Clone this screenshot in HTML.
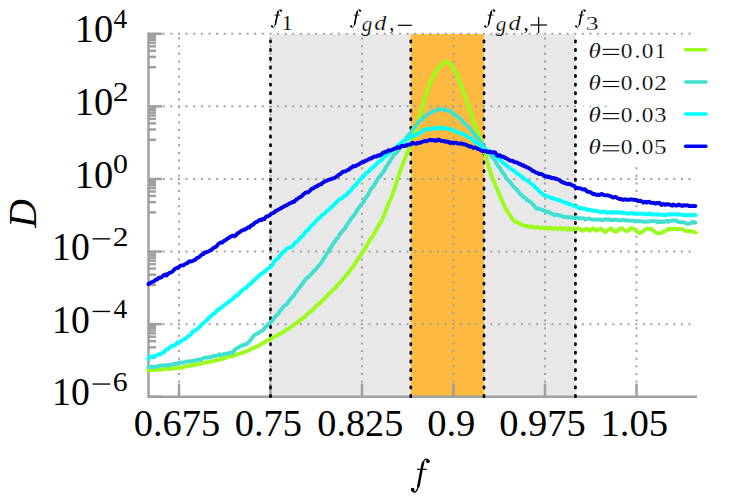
<!DOCTYPE html>
<html><head><meta charset="utf-8"><title>D vs f</title>
<style>
html,body{margin:0;padding:0;background:#fff;}
svg{display:block;font-family:"Liberation Serif",serif;}
</style></head>
<body>
<svg width="747" height="498" viewBox="0 0 747 498">
<rect width="747" height="498" fill="#fff"/>
<rect x="270.5" y="34.05" width="305.0" height="362.7" fill="#e8e8e8"/>
<rect x="410.8" y="34.05" width="73.2" height="362.7" fill="#feb940"/>
<g stroke="#a0a0a0" stroke-width="2" stroke-dasharray="2 5.62" stroke-dashoffset="1" fill="none">
<line x1="179.00" y1="396.75" x2="179.00" y2="33.75"/>
<line x1="270.50" y1="396.75" x2="270.50" y2="33.75"/>
<line x1="362.00" y1="396.75" x2="362.00" y2="33.75"/>
<line x1="453.50" y1="396.75" x2="453.50" y2="33.75"/>
<line x1="545.00" y1="396.75" x2="545.00" y2="33.75"/>
<line x1="636.50" y1="396.75" x2="636.50" y2="166.0"/>
<line x1="148.5" y1="33.75" x2="694" y2="33.75"/>
<line x1="148.5" y1="106.35" x2="576" y2="106.35"/>
<line x1="148.5" y1="178.95" x2="694" y2="178.95"/>
<line x1="148.5" y1="251.55" x2="694" y2="251.55"/>
<line x1="148.5" y1="324.15" x2="694" y2="324.15"/>
<line x1="582.84" y1="106.35" x2="608" y2="106.35" stroke="#c4c4c4"/>
</g>
<g stroke="#a0a0a0" stroke-width="2.5" fill="none">
<line x1="179.00" y1="396.75" x2="179.00" y2="383.55"/>
<line x1="270.50" y1="396.75" x2="270.50" y2="383.55"/>
<line x1="362.00" y1="396.75" x2="362.00" y2="383.55"/>
<line x1="453.50" y1="396.75" x2="453.50" y2="383.55"/>
<line x1="545.00" y1="396.75" x2="545.00" y2="383.55"/>
<line x1="636.50" y1="396.75" x2="636.50" y2="383.55"/>
<line x1="148.5" y1="33.75" x2="162.0" y2="33.75"/>
<line x1="148.5" y1="35.59" x2="156.0" y2="35.59"/>
<line x1="148.5" y1="37.67" x2="156.0" y2="37.67"/>
<line x1="148.5" y1="40.06" x2="156.0" y2="40.06"/>
<line x1="148.5" y1="42.89" x2="156.0" y2="42.89"/>
<line x1="148.5" y1="46.34" x2="156.0" y2="46.34"/>
<line x1="148.5" y1="50.76" x2="156.0" y2="50.76"/>
<line x1="148.5" y1="56.92" x2="156.0" y2="56.92"/>
<line x1="148.5" y1="67.18" x2="156.0" y2="67.18"/>
<line x1="148.5" y1="106.35" x2="162.0" y2="106.35"/>
<line x1="148.5" y1="108.19" x2="156.0" y2="108.19"/>
<line x1="148.5" y1="110.27" x2="156.0" y2="110.27"/>
<line x1="148.5" y1="112.66" x2="156.0" y2="112.66"/>
<line x1="148.5" y1="115.49" x2="156.0" y2="115.49"/>
<line x1="148.5" y1="118.94" x2="156.0" y2="118.94"/>
<line x1="148.5" y1="123.36" x2="156.0" y2="123.36"/>
<line x1="148.5" y1="129.52" x2="156.0" y2="129.52"/>
<line x1="148.5" y1="139.78" x2="156.0" y2="139.78"/>
<line x1="148.5" y1="178.95" x2="162.0" y2="178.95"/>
<line x1="148.5" y1="180.79" x2="156.0" y2="180.79"/>
<line x1="148.5" y1="182.87" x2="156.0" y2="182.87"/>
<line x1="148.5" y1="185.26" x2="156.0" y2="185.26"/>
<line x1="148.5" y1="188.09" x2="156.0" y2="188.09"/>
<line x1="148.5" y1="191.54" x2="156.0" y2="191.54"/>
<line x1="148.5" y1="195.96" x2="156.0" y2="195.96"/>
<line x1="148.5" y1="202.12" x2="156.0" y2="202.12"/>
<line x1="148.5" y1="212.38" x2="156.0" y2="212.38"/>
<line x1="148.5" y1="251.55" x2="162.0" y2="251.55"/>
<line x1="148.5" y1="253.39" x2="156.0" y2="253.39"/>
<line x1="148.5" y1="255.47" x2="156.0" y2="255.47"/>
<line x1="148.5" y1="257.86" x2="156.0" y2="257.86"/>
<line x1="148.5" y1="260.69" x2="156.0" y2="260.69"/>
<line x1="148.5" y1="264.14" x2="156.0" y2="264.14"/>
<line x1="148.5" y1="268.56" x2="156.0" y2="268.56"/>
<line x1="148.5" y1="274.72" x2="156.0" y2="274.72"/>
<line x1="148.5" y1="284.98" x2="156.0" y2="284.98"/>
<line x1="148.5" y1="324.15" x2="162.0" y2="324.15"/>
<line x1="148.5" y1="325.99" x2="156.0" y2="325.99"/>
<line x1="148.5" y1="328.07" x2="156.0" y2="328.07"/>
<line x1="148.5" y1="330.46" x2="156.0" y2="330.46"/>
<line x1="148.5" y1="333.29" x2="156.0" y2="333.29"/>
<line x1="148.5" y1="336.74" x2="156.0" y2="336.74"/>
<line x1="148.5" y1="341.16" x2="156.0" y2="341.16"/>
<line x1="148.5" y1="347.32" x2="156.0" y2="347.32"/>
<line x1="148.5" y1="357.58" x2="156.0" y2="357.58"/>
<line x1="148.5" y1="396.75" x2="162.0" y2="396.75"/>
<path d="M148.5,32.55 V396.75 H697.0"/>
</g>
<g stroke="#000" stroke-width="2.7" stroke-linecap="round" stroke-dasharray="1.3 7.35" fill="none">
<line x1="270.50" y1="396.75" x2="270.50" y2="33.75"/>
<line x1="410.80" y1="396.75" x2="410.80" y2="33.75"/>
<line x1="484.00" y1="396.75" x2="484.00" y2="33.75"/>
<line x1="575.50" y1="396.75" x2="575.50" y2="33.75"/>
</g>
<g fill="none" stroke-width="3.9" stroke-linejoin="round" stroke-linecap="round">
<path stroke="#9cfb1c" d="M148.4,370.7 L149.4,370.1 L150.4,370.1 L151.4,370.2 L152.4,370.2 L153.4,370.0 L154.4,369.8 L155.4,369.9 L156.4,369.7 L157.4,369.7 L158.4,369.7 L159.4,369.9 L160.4,369.7 L161.4,369.3 L162.4,369.2 L163.4,369.1 L164.4,368.9 L165.4,368.8 L166.4,368.9 L167.4,369.2 L168.4,368.8 L169.4,368.7 L170.4,368.7 L171.4,368.7 L172.4,368.7 L173.4,368.3 L174.4,368.0 L175.4,368.1 L176.4,368.2 L177.4,368.1 L178.4,367.9 L179.4,367.8 L180.4,367.6 L181.4,367.7 L182.4,367.5 L183.4,366.7 L184.4,366.8 L185.4,366.6 L186.4,366.3 L187.4,366.4 L188.4,366.1 L189.4,365.9 L190.4,365.7 L191.4,365.4 L192.4,365.4 L193.4,365.3 L194.4,364.8 L195.4,364.6 L196.4,364.4 L197.4,364.2 L198.4,364.2 L199.4,364.0 L200.4,363.6 L201.4,363.4 L202.4,363.1 L203.4,362.9 L204.4,362.9 L205.4,362.5 L206.4,362.2 L207.4,362.3 L208.4,362.1 L209.4,362.1 L210.4,361.8 L211.4,361.7 L212.4,361.2 L213.4,360.9 L214.4,360.6 L215.4,360.6 L216.4,360.2 L217.4,360.0 L218.4,359.8 L219.4,359.7 L220.4,359.5 L221.4,359.1 L222.4,358.9 L223.4,358.3 L224.4,358.4 L225.4,358.2 L226.4,357.6 L227.4,357.2 L228.4,356.8 L229.4,356.7 L230.4,356.6 L231.4,356.4 L232.4,356.1 L233.4,355.6 L234.4,355.7 L235.4,355.0 L236.4,354.8 L237.4,354.3 L238.4,353.8 L239.4,353.8 L240.4,353.4 L241.4,353.0 L242.4,352.7 L243.4,352.5 L244.4,352.3 L245.4,351.6 L246.4,351.1 L247.4,351.0 L248.4,350.4 L249.4,350.0 L250.4,349.2 L251.4,348.4 L252.4,348.4 L253.4,348.1 L254.4,347.5 L255.4,347.0 L256.4,346.7 L257.4,346.4 L258.4,346.0 L259.4,345.4 L260.4,344.6 L261.4,344.0 L262.4,343.3 L263.4,342.9 L264.4,342.6 L265.4,341.8 L266.4,340.8 L267.4,340.4 L268.4,340.0 L269.4,339.3 L270.4,338.8 L271.4,338.6 L272.4,338.0 L273.4,337.1 L274.4,336.6 L275.4,336.4 L276.4,336.0 L277.4,335.3 L278.4,334.5 L279.4,334.0 L280.4,333.7 L281.4,333.2 L282.4,332.4 L283.4,332.0 L284.4,331.5 L285.4,330.4 L286.4,329.7 L287.4,329.4 L288.4,328.6 L289.4,328.1 L290.4,327.5 L291.4,326.7 L292.4,325.8 L293.4,325.2 L294.4,324.5 L295.4,323.7 L296.4,323.1 L297.4,322.4 L298.4,321.7 L299.4,320.5 L300.4,320.0 L301.4,319.3 L302.4,318.4 L303.4,317.7 L304.4,317.0 L305.4,316.4 L306.4,315.3 L307.4,314.0 L308.4,313.1 L309.4,312.4 L310.4,311.7 L311.4,310.9 L312.4,310.1 L313.4,309.3 L314.4,308.1 L315.4,307.2 L316.4,305.7 L317.4,304.5 L318.4,304.2 L319.4,303.6 L320.4,302.6 L321.4,301.6 L322.4,300.6 L323.4,299.8 L324.4,298.8 L325.4,297.6 L326.4,296.6 L327.4,295.5 L328.4,294.5 L329.4,293.4 L330.4,292.6 L331.4,291.5 L332.4,290.4 L333.4,289.5 L334.4,288.6 L335.4,287.9 L336.4,286.8 L337.4,285.3 L338.4,284.5 L339.4,283.1 L340.4,282.2 L341.4,281.0 L342.4,279.7 L343.4,278.6 L344.4,277.6 L345.4,276.3 L346.4,275.0 L347.4,274.0 L348.4,272.6 L349.4,271.4 L350.4,270.0 L351.4,268.3 L352.4,267.3 L353.4,266.3 L354.4,264.9 L355.4,262.6 L356.4,261.4 L357.4,260.1 L358.4,258.6 L359.4,257.3 L360.4,255.9 L361.4,254.1 L362.4,252.5 L363.4,251.1 L364.4,249.5 L365.4,247.7 L366.4,246.0 L367.4,244.5 L368.4,242.5 L369.4,240.7 L370.4,239.4 L371.4,237.8 L372.4,236.4 L373.4,234.9 L374.4,233.2 L375.4,231.4 L376.4,229.5 L377.4,227.8 L378.4,225.9 L379.4,224.4 L380.4,222.6 L381.4,220.9 L382.4,218.9 L383.4,216.6 L384.4,214.4 L385.4,211.8 L386.4,208.8 L387.4,206.5 L388.4,204.1 L389.4,201.7 L390.4,199.7 L391.4,197.3 L392.4,194.5 L393.4,191.6 L394.4,188.8 L395.4,185.6 L396.4,182.6 L397.4,179.4 L398.4,176.4 L399.4,173.4 L400.4,170.5 L401.4,167.7 L402.4,165.0 L403.4,162.6 L404.4,159.7 L405.4,157.1 L406.4,154.6 L407.4,152.4 L408.4,150.0 L409.4,147.5 L410.4,145.2 L411.4,142.5 L412.4,139.9 L413.4,137.2 L414.4,134.0 L415.4,131.0 L416.4,127.8 L417.4,124.3 L418.4,120.8 L419.4,117.2 L420.4,113.4 L421.4,110.1 L422.4,106.8 L423.4,102.9 L424.4,99.6 L425.4,96.5 L426.4,93.5 L427.4,90.4 L428.4,87.6 L429.4,85.1 L430.4,82.7 L431.4,80.5 L432.4,77.8 L433.4,75.9 L434.4,74.4 L435.4,72.7 L436.4,70.9 L437.4,69.5 L438.4,68.2 L439.4,66.7 L440.4,66.1 L441.4,65.2 L442.4,63.9 L443.4,62.8 L444.4,62.4 L445.4,61.8 L446.4,61.6 L447.4,62.1 L448.4,62.8 L449.4,63.7 L450.4,64.3 L451.4,65.5 L452.4,66.8 L453.4,68.6 L454.4,70.1 L455.4,71.6 L456.4,74.0 L457.4,76.3 L458.4,78.6 L459.4,81.2 L460.4,84.0 L461.4,86.6 L462.4,89.0 L463.4,91.6 L464.4,94.5 L465.4,97.3 L466.4,100.1 L467.4,102.9 L468.4,106.2 L469.4,109.1 L470.4,112.1 L471.4,114.9 L472.4,118.1 L473.4,121.6 L474.4,124.5 L475.4,126.9 L476.4,129.5 L477.4,131.7 L478.4,133.9 L479.4,136.3 L480.4,139.2 L481.4,141.9 L482.4,144.6 L483.4,147.5 L484.4,151.2 L485.4,154.6 L486.4,158.2 L487.4,161.8 L488.4,165.1 L489.4,168.5 L490.4,172.0 L491.4,174.8 L492.4,177.8 L493.4,180.2 L494.4,182.7 L495.4,185.1 L496.4,187.5 L497.4,189.4 L498.4,191.8 L499.4,194.6 L500.4,197.1 L501.4,199.5 L502.4,201.8 L503.4,203.7 L504.4,205.9 L505.4,208.1 L506.4,209.8 L507.4,211.3 L508.4,212.6 L509.4,214.4 L510.4,215.9 L511.4,217.6 L512.4,219.0 L513.4,220.4 L514.4,221.3 L515.4,221.5 L516.4,221.9 L517.4,222.1 L518.4,222.9 L519.4,223.3 L520.4,223.8 L521.4,224.5 L522.4,224.9 L523.4,225.4 L524.4,225.8 L525.4,226.0 L526.4,226.0 L527.4,226.1 L528.4,226.4 L529.4,226.7 L530.4,227.2 L531.4,226.9 L532.4,226.5 L533.4,227.1 L534.4,227.9 L535.4,227.9 L536.4,227.2 L537.4,227.0 L538.4,227.5 L539.4,228.2 L540.4,228.0 L541.4,227.2 L542.4,227.5 L543.4,228.1 L544.4,228.7 L545.4,228.1 L546.4,227.5 L547.4,228.0 L548.4,229.0 L549.4,228.6 L550.4,227.6 L551.4,227.7 L552.4,228.8 L553.4,229.0 L554.4,228.4 L555.4,228.0 L556.4,228.2 L557.4,229.0 L558.4,229.2 L559.4,228.2 L560.4,227.6 L561.4,228.7 L562.4,229.4 L563.4,229.0 L564.4,228.2 L565.4,228.3 L566.4,229.2 L567.4,229.7 L568.4,229.2 L569.4,228.3 L570.4,228.9 L571.4,229.7 L572.4,229.5 L573.4,228.7 L574.4,228.6 L575.7,229.3 L576.7,229.0 L577.7,228.5 L578.7,228.2 L579.7,228.6 L580.7,229.4 L581.7,230.5 L582.7,230.9 L583.7,230.3 L584.7,229.6 L585.7,228.9 L586.7,228.6 L587.7,229.3 L588.7,230.5 L589.7,230.9 L590.7,230.0 L591.7,228.9 L592.7,228.4 L593.7,228.7 L594.7,229.4 L595.7,230.5 L596.7,230.7 L597.7,230.3 L598.7,229.5 L599.7,229.0 L600.7,228.6 L601.7,229.2 L602.7,230.2 L603.7,231.2 L604.7,231.8 L605.7,232.0 L606.7,231.2 L607.7,230.0 L608.7,229.2 L609.7,228.8 L610.7,228.6 L611.7,229.1 L612.7,230.1 L613.7,231.2 L614.7,231.5 L615.7,231.5 L616.7,231.3 L617.7,230.6 L618.7,229.5 L619.7,228.9 L620.7,228.3 L621.7,228.3 L622.7,229.0 L623.7,229.5 L624.7,230.4 L625.7,230.8 L626.7,231.2 L627.7,231.1 L628.7,230.2 L629.7,229.0 L630.7,228.1 L631.7,228.1 L632.7,228.3 L633.7,228.9 L634.7,229.5 L635.7,230.6 L636.7,231.2 L637.7,232.3 L638.7,232.9 L639.7,233.0 L640.7,232.9 L641.7,232.4 L642.7,231.5 L643.7,230.5 L644.7,229.8 L645.7,229.2 L646.7,228.5 L647.7,228.7 L648.7,228.6 L649.7,228.8 L650.7,228.9 L651.7,229.3 L652.7,230.2 L653.7,230.7 L654.7,231.3 L655.7,232.6 L656.7,233.0 L657.7,233.1 L658.7,233.4 L659.7,233.4 L660.7,233.3 L661.7,232.9 L662.7,232.1 L663.7,231.4 L664.7,231.1 L665.7,230.8 L666.7,230.4 L667.7,229.5 L668.7,229.0 L669.7,229.1 L670.7,228.7 L671.7,229.1 L672.7,229.2 L673.7,228.7 L674.7,228.6 L675.7,229.1 L676.7,229.3 L677.7,229.2 L678.7,228.9 L679.7,228.9 L680.7,229.0 L681.7,229.2 L682.7,229.3 L683.7,229.7 L684.7,230.8 L685.7,231.0 L686.7,230.9 L687.7,230.8 L688.7,231.1 L689.7,231.1 L690.7,231.2 L691.7,231.1 L692.7,231.2 L693.7,231.7 L694.7,232.3 L695.7,232.7"/>
<path stroke="#40e0d0" d="M148.4,366.9 L149.4,366.8 L150.4,366.7 L151.4,366.7 L152.4,366.4 L153.4,367.2 L154.4,367.1 L155.4,366.6 L156.4,366.7 L157.4,366.4 L158.4,366.0 L159.4,366.0 L160.4,365.7 L161.4,365.4 L162.4,365.1 L163.4,365.7 L164.4,365.3 L165.4,365.7 L166.4,365.5 L167.4,365.1 L168.4,365.0 L169.4,364.9 L170.4,365.2 L171.4,364.7 L172.4,364.3 L173.4,364.3 L174.4,364.0 L175.4,364.2 L176.4,363.9 L177.4,363.3 L178.4,362.9 L179.4,363.1 L180.4,362.5 L181.4,362.4 L182.4,362.7 L183.4,362.7 L184.4,362.4 L185.4,362.0 L186.4,361.5 L187.4,361.4 L188.4,361.3 L189.4,361.8 L190.4,361.3 L191.4,361.3 L192.4,361.1 L193.4,360.9 L194.4,360.8 L195.4,360.3 L196.4,360.2 L197.4,359.8 L198.4,359.6 L199.4,359.3 L200.4,359.7 L201.4,359.9 L202.4,358.6 L203.4,358.1 L204.4,357.8 L205.4,357.7 L206.4,357.5 L207.4,357.7 L208.4,357.1 L209.4,357.2 L210.4,357.5 L211.4,357.1 L212.4,356.3 L213.4,355.9 L214.4,355.8 L215.4,356.0 L216.4,355.7 L217.4,355.6 L218.4,354.8 L219.4,354.3 L220.4,355.5 L221.4,355.4 L222.4,354.8 L223.4,354.5 L224.4,353.6 L225.4,353.7 L226.4,354.1 L227.4,353.8 L228.4,353.1 L229.4,352.8 L230.4,352.6 L231.4,352.8 L232.4,353.1 L233.4,351.5 L234.4,350.1 L235.4,349.3 L236.4,348.4 L237.4,348.0 L238.4,347.7 L239.4,346.8 L240.4,346.4 L241.4,345.3 L242.4,345.3 L243.4,345.3 L244.4,344.3 L245.4,344.1 L246.4,344.4 L247.4,343.5 L248.4,341.9 L249.4,341.4 L250.4,340.4 L251.4,338.9 L252.4,337.4 L253.4,336.0 L254.4,335.2 L255.4,334.4 L256.4,334.1 L257.4,333.6 L258.4,333.1 L259.4,332.5 L260.4,331.3 L261.4,331.0 L262.4,330.7 L263.4,329.8 L264.4,328.5 L265.4,326.9 L266.4,326.0 L267.4,325.3 L268.4,323.9 L269.4,323.2 L270.4,322.6 L271.4,321.6 L272.4,320.6 L273.4,319.3 L274.4,318.0 L275.4,316.3 L276.4,315.6 L277.4,314.8 L278.4,313.6 L279.4,311.7 L280.4,310.3 L281.4,309.3 L282.4,308.0 L283.4,306.6 L284.4,305.7 L285.4,305.0 L286.4,304.7 L287.4,303.6 L288.4,301.9 L289.4,300.1 L290.4,299.4 L291.4,298.0 L292.4,296.8 L293.4,296.2 L294.4,294.7 L295.4,292.9 L296.4,291.4 L297.4,290.2 L298.4,289.2 L299.4,287.4 L300.4,286.2 L301.4,285.0 L302.4,284.0 L303.4,282.4 L304.4,280.8 L305.4,279.8 L306.4,278.7 L307.4,277.6 L308.4,277.1 L309.4,276.0 L310.4,274.7 L311.4,274.1 L312.4,272.8 L313.4,271.7 L314.4,270.4 L315.4,269.7 L316.4,268.5 L317.4,267.3 L318.4,265.8 L319.4,264.9 L320.4,263.9 L321.4,262.6 L322.4,260.9 L323.4,259.0 L324.4,258.0 L325.4,256.1 L326.4,253.9 L327.4,252.9 L328.4,251.6 L329.4,249.3 L330.4,248.0 L331.4,246.9 L332.4,245.0 L333.4,243.4 L334.4,242.3 L335.4,240.8 L336.4,239.2 L337.4,238.4 L338.4,237.1 L339.4,235.2 L340.4,233.5 L341.4,232.5 L342.4,230.8 L343.4,230.2 L344.4,229.2 L345.4,227.8 L346.4,225.6 L347.4,224.2 L348.4,222.9 L349.4,221.6 L350.4,219.8 L351.4,218.1 L352.4,217.3 L353.4,216.2 L354.4,214.6 L355.4,213.2 L356.4,211.6 L357.4,209.8 L358.4,208.7 L359.4,206.9 L360.4,205.9 L361.4,204.4 L362.4,203.3 L363.4,202.2 L364.4,200.5 L365.4,198.5 L366.4,196.5 L367.4,195.7 L368.4,194.2 L369.4,192.2 L370.4,190.1 L371.4,188.4 L372.4,187.4 L373.4,186.5 L374.4,184.6 L375.4,183.0 L376.4,181.1 L377.4,179.6 L378.4,178.2 L379.4,177.2 L380.4,176.1 L381.4,174.2 L382.4,173.2 L383.4,171.8 L384.4,170.2 L385.4,168.7 L386.4,166.4 L387.4,165.1 L388.4,163.8 L389.4,162.0 L390.4,160.6 L391.4,158.7 L392.4,157.2 L393.4,155.5 L394.4,154.4 L395.4,153.9 L396.4,152.6 L397.4,151.7 L398.4,150.3 L399.4,148.9 L400.4,147.3 L401.4,146.2 L402.4,144.6 L403.4,142.9 L404.4,141.8 L405.4,139.6 L406.4,137.9 L407.4,136.3 L408.4,135.1 L409.4,134.1 L410.4,133.4 L411.4,131.6 L412.4,129.9 L413.4,128.5 L414.4,127.1 L415.4,126.3 L416.4,125.5 L417.4,123.3 L418.4,121.8 L419.4,121.1 L420.4,120.5 L421.4,120.1 L422.4,118.7 L423.4,117.5 L424.4,116.8 L425.4,116.3 L426.4,115.4 L427.4,114.3 L428.4,113.9 L429.4,113.2 L430.4,112.9 L431.4,112.5 L432.4,111.4 L433.4,111.2 L434.4,111.0 L435.4,110.9 L436.4,110.3 L437.4,109.8 L438.4,109.6 L439.4,109.2 L440.4,109.4 L441.4,109.1 L442.4,109.0 L443.4,109.3 L444.4,110.0 L445.4,110.3 L446.4,110.1 L447.4,110.1 L448.4,110.9 L449.4,111.2 L450.4,110.9 L451.4,112.2 L452.4,113.3 L453.4,113.5 L454.4,114.5 L455.4,115.3 L456.4,116.0 L457.4,116.6 L458.4,116.6 L459.4,118.1 L460.4,119.2 L461.4,120.1 L462.4,121.3 L463.4,122.6 L464.4,123.4 L465.4,123.7 L466.4,124.8 L467.4,126.2 L468.4,126.9 L469.4,127.8 L470.4,129.4 L471.4,131.1 L472.4,131.8 L473.4,133.1 L474.4,133.8 L475.4,135.5 L476.4,136.5 L477.4,137.6 L478.4,139.3 L479.4,140.4 L480.4,141.7 L481.4,143.0 L482.4,144.3 L483.4,146.5 L484.4,148.1 L485.4,148.8 L486.4,150.0 L487.4,151.4 L488.4,152.7 L489.4,153.4 L490.4,154.9 L491.4,155.9 L492.4,157.1 L493.4,158.6 L494.4,159.6 L495.4,161.4 L496.4,163.0 L497.4,164.6 L498.4,166.4 L499.4,167.3 L500.4,168.5 L501.4,170.9 L502.4,172.3 L503.4,173.4 L504.4,174.6 L505.4,176.3 L506.4,178.7 L507.4,179.6 L508.4,180.4 L509.4,181.0 L510.4,182.6 L511.4,183.7 L512.4,185.0 L513.4,186.5 L514.4,187.4 L515.4,188.5 L516.4,189.3 L517.4,190.6 L518.4,191.9 L519.4,193.0 L520.4,194.1 L521.4,195.0 L522.4,195.9 L523.4,197.0 L524.4,197.4 L525.4,197.9 L526.4,199.6 L527.4,200.4 L528.4,200.2 L529.4,201.2 L530.4,202.2 L531.4,202.8 L532.4,203.9 L533.4,204.8 L534.4,206.0 L535.4,207.7 L536.4,208.5 L537.4,208.7 L538.4,208.5 L539.4,209.0 L540.4,209.2 L541.4,209.8 L542.4,209.7 L543.4,210.6 L544.4,210.9 L545.4,211.1 L546.4,212.3 L547.4,212.0 L548.4,211.6 L549.4,212.0 L550.4,213.3 L551.4,213.6 L552.4,213.8 L553.4,214.3 L554.4,215.2 L555.4,215.1 L556.4,214.6 L557.4,214.7 L558.4,215.2 L559.4,215.5 L560.4,215.4 L561.4,215.7 L562.4,216.7 L563.4,216.6 L564.4,217.1 L565.4,217.1 L566.4,216.9 L567.4,217.1 L568.4,217.6 L569.4,217.4 L570.4,217.1 L571.4,217.5 L572.4,217.7 L573.4,217.8 L574.4,218.2 L575.4,218.1 L576.4,217.0 L577.4,217.3 L578.4,218.4 L579.4,218.0 L580.4,218.4 L581.4,218.4 L582.4,218.2 L583.4,218.3 L584.4,218.8 L585.4,219.7 L586.4,218.9 L587.4,218.7 L588.4,218.7 L589.4,218.5 L590.4,219.2 L591.4,219.4 L592.4,219.5 L593.4,219.4 L594.4,219.6 L595.4,219.7 L596.4,219.4 L597.4,219.5 L598.4,219.7 L599.4,219.8 L600.4,219.8 L601.4,220.0 L602.4,219.9 L603.4,220.0 L604.4,219.7 L605.4,219.2 L606.4,219.2 L607.4,219.7 L608.4,219.7 L609.4,219.3 L610.4,220.0 L611.4,220.0 L612.4,219.8 L613.4,220.0 L614.4,220.0 L615.4,219.6 L616.4,219.8 L617.4,219.8 L618.4,220.4 L619.4,220.3 L620.4,220.6 L621.4,220.1 L622.4,220.0 L623.4,219.7 L624.4,220.1 L625.4,220.6 L626.4,220.4 L627.4,220.5 L628.4,220.7 L629.4,220.6 L630.4,220.6 L631.4,220.6 L632.4,220.8 L633.4,220.9 L634.4,220.6 L635.4,221.5 L636.4,221.5 L637.4,220.9 L638.4,220.8 L639.4,221.4 L640.4,221.2 L641.4,221.2 L642.4,221.6 L643.4,221.4 L644.4,221.4 L645.4,221.9 L646.4,221.7 L647.4,221.5 L648.4,221.6 L649.4,221.3 L650.4,221.2 L651.4,221.3 L652.4,221.1 L653.4,220.9 L654.4,221.3 L655.4,221.3 L656.4,221.3 L657.4,222.0 L658.4,222.0 L659.4,221.4 L660.4,222.1 L661.4,222.1 L662.4,221.8 L663.4,221.7 L664.4,221.8 L665.4,221.2 L666.4,220.8 L667.4,221.3 L668.4,221.9 L669.4,220.7 L670.4,220.6 L671.4,220.8 L672.4,220.7 L673.4,220.1 L674.4,220.3 L675.4,220.8 L676.4,220.7 L677.4,221.4 L678.4,221.8 L679.4,222.2 L680.4,222.1 L681.4,222.2 L682.4,222.2 L683.4,222.3 L684.4,222.4 L685.4,222.8 L686.4,223.7 L687.4,223.6 L688.4,223.6 L689.4,223.6 L690.4,223.2 L691.4,222.8 L692.4,222.0 L693.4,222.2 L694.4,222.8 L695.4,222.5"/>
<path stroke="#00ffff" d="M148.4,359.1 L149.4,357.7 L150.4,357.0 L151.4,356.7 L152.4,356.3 L153.4,356.0 L154.4,356.5 L155.4,356.0 L156.4,355.1 L157.4,354.9 L158.4,354.5 L159.4,354.7 L160.4,353.8 L161.4,353.4 L162.4,352.8 L163.4,352.7 L164.4,351.6 L165.4,350.2 L166.4,349.6 L167.4,349.5 L168.4,348.7 L169.4,347.8 L170.4,347.0 L171.4,346.4 L172.4,345.7 L173.4,345.9 L174.4,345.7 L175.4,344.9 L176.4,343.6 L177.4,342.5 L178.4,342.7 L179.4,342.4 L180.4,341.5 L181.4,340.7 L182.4,340.3 L183.4,339.8 L184.4,339.3 L185.4,338.9 L186.4,337.9 L187.4,336.9 L188.4,336.1 L189.4,335.5 L190.4,334.8 L191.4,333.7 L192.4,332.0 L193.4,331.5 L194.4,330.9 L195.4,330.3 L196.4,329.5 L197.4,328.8 L198.4,328.0 L199.4,326.8 L200.4,326.2 L201.4,324.9 L202.4,324.1 L203.4,323.1 L204.4,322.2 L205.4,321.4 L206.4,320.7 L207.4,319.6 L208.4,318.6 L209.4,317.2 L210.4,316.5 L211.4,315.8 L212.4,314.6 L213.4,314.1 L214.4,313.5 L215.4,312.2 L216.4,311.2 L217.4,310.1 L218.4,309.1 L219.4,308.9 L220.4,308.2 L221.4,307.5 L222.4,306.7 L223.4,305.8 L224.4,304.9 L225.4,304.3 L226.4,303.5 L227.4,302.9 L228.4,302.0 L229.4,301.2 L230.4,300.9 L231.4,299.8 L232.4,299.0 L233.4,298.3 L234.4,297.1 L235.4,296.1 L236.4,295.2 L237.4,295.3 L238.4,294.7 L239.4,293.2 L240.4,291.6 L241.4,291.0 L242.4,290.6 L243.4,289.3 L244.4,288.6 L245.4,288.1 L246.4,287.6 L247.4,286.4 L248.4,285.2 L249.4,284.5 L250.4,284.0 L251.4,283.1 L252.4,281.7 L253.4,280.8 L254.4,280.3 L255.4,279.2 L256.4,278.3 L257.4,277.2 L258.4,276.1 L259.4,275.5 L260.4,274.9 L261.4,273.5 L262.4,273.0 L263.4,272.5 L264.4,271.7 L265.4,271.3 L266.4,270.0 L267.4,268.7 L268.4,268.3 L269.4,268.0 L270.4,267.0 L271.4,266.1 L272.4,264.9 L273.4,263.1 L274.4,261.5 L275.4,260.4 L276.4,259.4 L277.4,259.0 L278.4,257.7 L279.4,256.4 L280.4,255.3 L281.4,253.9 L282.4,252.6 L283.4,251.7 L284.4,251.2 L285.4,250.3 L286.4,249.2 L287.4,248.3 L288.4,247.9 L289.4,247.5 L290.4,247.5 L291.4,246.8 L292.4,246.0 L293.4,245.3 L294.4,243.6 L295.4,242.5 L296.4,241.9 L297.4,241.5 L298.4,240.0 L299.4,239.0 L300.4,237.8 L301.4,236.7 L302.4,236.1 L303.4,235.1 L304.4,233.6 L305.4,232.2 L306.4,230.9 L307.4,230.0 L308.4,229.6 L309.4,228.6 L310.4,226.7 L311.4,225.7 L312.4,225.3 L313.4,224.1 L314.4,223.1 L315.4,221.8 L316.4,220.5 L317.4,219.8 L318.4,218.6 L319.4,218.2 L320.4,217.5 L321.4,215.7 L322.4,214.8 L323.4,214.3 L324.4,213.8 L325.4,212.8 L326.4,211.2 L327.4,210.6 L328.4,210.2 L329.4,209.1 L330.4,208.0 L331.4,207.1 L332.4,206.3 L333.4,205.4 L334.4,204.3 L335.4,203.1 L336.4,202.5 L337.4,201.2 L338.4,200.3 L339.4,199.6 L340.4,198.9 L341.4,198.5 L342.4,197.9 L343.4,197.0 L344.4,195.7 L345.4,195.6 L346.4,195.3 L347.4,193.7 L348.4,192.6 L349.4,191.8 L350.4,190.6 L351.4,189.9 L352.4,188.1 L353.4,186.9 L354.4,186.4 L355.4,185.5 L356.4,184.1 L357.4,182.8 L358.4,181.9 L359.4,180.1 L360.4,178.9 L361.4,178.2 L362.4,177.8 L363.4,176.7 L364.4,175.2 L365.4,174.0 L366.4,172.8 L367.4,172.5 L368.4,171.8 L369.4,170.7 L370.4,169.2 L371.4,168.5 L372.4,167.8 L373.4,167.1 L374.4,166.2 L375.4,165.3 L376.4,164.2 L377.4,162.9 L378.4,162.3 L379.4,161.6 L380.4,160.4 L381.4,160.2 L382.4,159.1 L383.4,157.8 L384.4,156.8 L385.4,156.4 L386.4,155.6 L387.4,154.2 L388.4,153.5 L389.4,153.0 L390.4,151.7 L391.4,151.1 L392.4,150.2 L393.4,149.5 L394.4,148.7 L395.4,147.7 L396.4,146.9 L397.4,145.8 L398.4,145.1 L399.4,144.3 L400.4,143.7 L401.4,142.9 L402.4,142.0 L403.4,141.0 L404.4,140.5 L405.4,140.3 L406.4,139.4 L407.4,138.1 L408.4,138.0 L409.4,137.6 L410.4,136.8 L411.4,136.8 L412.4,136.6 L413.4,136.0 L414.4,135.7 L415.4,134.9 L416.4,135.0 L417.4,134.7 L418.4,133.5 L419.4,133.1 L420.4,132.8 L421.4,132.2 L422.4,130.8 L423.4,130.0 L424.4,129.8 L425.4,129.9 L426.4,129.1 L427.4,129.0 L428.4,129.0 L429.4,129.1 L430.4,128.9 L431.4,128.7 L432.4,128.7 L433.4,128.3 L434.4,128.8 L435.4,128.5 L436.4,127.9 L437.4,127.9 L438.4,127.9 L439.4,128.0 L440.4,127.5 L441.4,127.5 L442.4,128.5 L443.4,128.5 L444.4,128.0 L445.4,127.9 L446.4,128.6 L447.4,128.8 L448.4,129.0 L449.4,129.1 L450.4,129.0 L451.4,129.8 L452.4,129.9 L453.4,130.2 L454.4,130.6 L455.4,131.3 L456.4,131.9 L457.4,132.5 L458.4,132.5 L459.4,132.5 L460.4,133.3 L461.4,133.5 L462.4,133.9 L463.4,134.4 L464.4,134.6 L465.4,135.4 L466.4,136.1 L467.4,136.2 L468.4,137.2 L469.4,137.5 L470.4,137.9 L471.4,138.6 L472.4,139.6 L473.4,140.5 L474.4,141.6 L475.4,142.4 L476.4,142.6 L477.4,143.1 L478.4,143.8 L479.4,144.7 L480.4,145.7 L481.4,146.3 L482.4,146.7 L483.4,148.0 L484.4,149.4 L485.4,150.0 L486.4,150.1 L487.4,150.4 L488.4,150.6 L489.4,151.0 L490.4,152.3 L491.4,153.1 L492.4,153.3 L493.4,154.1 L494.4,154.7 L495.4,155.5 L496.4,156.7 L497.4,157.4 L498.4,158.2 L499.4,158.9 L500.4,160.4 L501.4,161.4 L502.4,162.1 L503.4,163.0 L504.4,163.8 L505.4,164.5 L506.4,165.5 L507.4,166.1 L508.4,167.0 L509.4,168.0 L510.4,168.7 L511.4,169.1 L512.4,169.9 L513.4,170.5 L514.4,170.9 L515.4,172.0 L516.4,173.1 L517.4,173.6 L518.4,174.5 L519.4,175.0 L520.4,175.4 L521.4,176.3 L522.4,177.1 L523.4,178.3 L524.4,179.0 L525.4,179.3 L526.4,180.1 L527.4,180.9 L528.4,181.3 L529.4,182.1 L530.4,183.4 L531.4,183.8 L532.4,184.4 L533.4,185.2 L534.4,186.6 L535.4,187.5 L536.4,188.2 L537.4,188.9 L538.4,190.4 L539.4,191.6 L540.4,192.1 L541.4,193.1 L542.4,194.1 L543.4,194.7 L544.4,195.3 L545.4,195.7 L546.4,196.0 L547.4,196.2 L548.4,196.7 L549.4,197.0 L550.4,197.7 L551.4,198.1 L552.4,197.8 L553.4,198.5 L554.4,199.0 L555.4,199.2 L556.4,199.3 L557.4,199.6 L558.4,200.3 L559.4,199.7 L560.4,200.4 L561.4,201.2 L562.4,201.5 L563.4,202.1 L564.4,202.5 L565.4,202.6 L566.4,202.9 L567.4,203.3 L568.4,204.2 L569.4,204.3 L570.4,204.2 L571.4,204.6 L572.4,205.3 L573.4,205.5 L574.4,206.0 L575.4,206.6 L576.4,206.6 L577.4,207.1 L578.4,208.0 L579.4,208.3 L580.4,207.9 L581.4,207.9 L582.4,208.5 L583.4,208.9 L584.4,208.8 L585.4,208.6 L586.4,209.6 L587.4,210.1 L588.4,210.0 L589.4,209.7 L590.4,209.8 L591.4,210.4 L592.4,210.6 L593.4,210.5 L594.4,210.7 L595.4,210.8 L596.4,211.1 L597.4,211.0 L598.4,211.6 L599.4,211.8 L600.4,212.2 L601.4,211.8 L602.4,211.8 L603.4,211.8 L604.4,211.4 L605.4,212.4 L606.4,212.8 L607.4,212.5 L608.4,212.6 L609.4,212.6 L610.4,212.4 L611.4,211.9 L612.4,211.9 L613.4,212.9 L614.4,212.7 L615.4,212.2 L616.4,212.4 L617.4,212.1 L618.4,212.6 L619.4,212.4 L620.4,212.4 L621.4,212.8 L622.4,212.6 L623.4,213.0 L624.4,212.9 L625.4,213.1 L626.4,213.6 L627.4,213.6 L628.4,213.5 L629.4,213.2 L630.4,213.3 L631.4,213.0 L632.4,212.9 L633.4,213.5 L634.4,213.6 L635.4,214.0 L636.4,213.7 L637.4,213.8 L638.4,213.6 L639.4,213.6 L640.4,213.6 L641.4,213.7 L642.4,213.5 L643.4,213.9 L644.4,214.0 L645.4,214.0 L646.4,214.1 L647.4,214.4 L648.4,214.2 L649.4,213.6 L650.4,213.4 L651.4,214.4 L652.4,214.7 L653.4,214.4 L654.4,214.2 L655.4,214.6 L656.4,214.7 L657.4,214.4 L658.4,214.3 L659.4,214.5 L660.4,214.6 L661.4,214.8 L662.4,214.7 L663.4,214.9 L664.4,215.2 L665.4,214.9 L666.4,215.0 L667.4,214.6 L668.4,214.0 L669.4,214.3 L670.4,214.1 L671.4,214.3 L672.4,214.1 L673.4,214.2 L674.4,214.2 L675.4,214.4 L676.4,214.5 L677.4,214.5 L678.4,214.5 L679.4,214.0 L680.4,214.4 L681.4,214.9 L682.4,214.9 L683.4,215.2 L684.4,214.6 L685.4,215.3 L686.4,215.5 L687.4,215.2 L688.4,215.1 L689.4,214.6 L690.4,215.3 L691.4,215.3 L692.4,215.2 L693.4,214.7 L694.4,214.8 L695.4,215.1"/>
<path stroke="#0000ee" d="M148.4,284.1 L149.4,283.6 L150.4,282.8 L151.4,282.3 L152.4,282.0 L153.4,281.4 L154.4,280.9 L155.4,279.9 L156.4,279.6 L157.4,279.3 L158.4,278.0 L159.4,277.6 L160.4,277.8 L161.4,277.3 L162.4,276.3 L163.4,275.5 L164.4,274.9 L165.4,274.5 L166.4,275.5 L167.4,274.5 L168.4,273.5 L169.4,272.8 L170.4,272.6 L171.4,272.2 L172.4,271.6 L173.4,270.5 L174.4,269.4 L175.4,268.7 L176.4,268.0 L177.4,268.0 L178.4,267.8 L179.4,266.5 L180.4,265.6 L181.4,265.4 L182.4,265.4 L183.4,265.4 L184.4,264.7 L185.4,264.0 L186.4,263.3 L187.4,263.1 L188.4,262.0 L189.4,261.2 L190.4,261.6 L191.4,261.4 L192.4,260.9 L193.4,260.6 L194.4,260.0 L195.4,259.6 L196.4,258.5 L197.4,257.6 L198.4,257.5 L199.4,256.8 L200.4,256.0 L201.4,254.9 L202.4,254.3 L203.4,254.1 L204.4,252.6 L205.4,252.2 L206.4,252.4 L207.4,251.8 L208.4,251.5 L209.4,250.7 L210.4,250.3 L211.4,250.1 L212.4,248.8 L213.4,248.2 L214.4,247.3 L215.4,247.1 L216.4,246.5 L217.4,245.1 L218.4,243.8 L219.4,243.2 L220.4,242.7 L221.4,242.4 L222.4,242.5 L223.4,241.4 L224.4,240.6 L225.4,240.3 L226.4,239.4 L227.4,238.7 L228.4,238.2 L229.4,237.3 L230.4,236.8 L231.4,236.3 L232.4,235.7 L233.4,235.7 L234.4,236.3 L235.4,235.7 L236.4,234.8 L237.4,233.4 L238.4,233.0 L239.4,232.4 L240.4,231.5 L241.4,230.8 L242.4,230.4 L243.4,229.8 L244.4,229.9 L245.4,229.1 L246.4,228.7 L247.4,227.8 L248.4,227.2 L249.4,227.5 L250.4,226.1 L251.4,225.2 L252.4,225.2 L253.4,224.5 L254.4,223.1 L255.4,222.4 L256.4,222.1 L257.4,221.4 L258.4,220.9 L259.4,219.9 L260.4,220.0 L261.4,220.3 L262.4,219.0 L263.4,219.0 L264.4,219.2 L265.4,217.5 L266.4,216.4 L267.4,216.3 L268.4,216.1 L269.4,215.4 L270.4,214.7 L271.4,213.7 L272.4,213.1 L273.4,213.1 L274.4,212.3 L275.4,211.1 L276.4,210.7 L277.4,210.3 L278.4,209.5 L279.4,209.2 L280.4,208.6 L281.4,207.9 L282.4,207.6 L283.4,206.8 L284.4,206.2 L285.4,205.9 L286.4,205.3 L287.4,204.8 L288.4,204.3 L289.4,203.4 L290.4,203.2 L291.4,202.9 L292.4,201.9 L293.4,202.1 L294.4,201.5 L295.4,200.3 L296.4,199.3 L297.4,199.0 L298.4,198.2 L299.4,197.4 L300.4,197.0 L301.4,196.4 L302.4,195.5 L303.4,194.3 L304.4,193.8 L305.4,192.7 L306.4,192.5 L307.4,192.4 L308.4,192.0 L309.4,191.4 L310.4,190.1 L311.4,189.1 L312.4,188.6 L313.4,188.3 L314.4,187.3 L315.4,186.9 L316.4,186.3 L317.4,186.2 L318.4,185.2 L319.4,184.7 L320.4,184.5 L321.4,184.2 L322.4,183.0 L323.4,182.2 L324.4,181.7 L325.4,181.4 L326.4,180.8 L327.4,180.4 L328.4,179.8 L329.4,179.7 L330.4,179.4 L331.4,178.8 L332.4,178.5 L333.4,178.3 L334.4,178.0 L335.4,177.3 L336.4,176.9 L337.4,176.2 L338.4,175.1 L339.4,174.4 L340.4,173.9 L341.4,173.1 L342.4,172.1 L343.4,171.6 L344.4,171.5 L345.4,171.4 L346.4,170.8 L347.4,170.2 L348.4,169.6 L349.4,169.3 L350.4,168.1 L351.4,167.7 L352.4,167.0 L353.4,166.0 L354.4,166.4 L355.4,166.2 L356.4,165.4 L357.4,164.9 L358.4,164.6 L359.4,164.1 L360.4,163.2 L361.4,162.8 L362.4,162.0 L363.4,162.2 L364.4,161.3 L365.4,160.9 L366.4,160.4 L367.4,160.0 L368.4,159.5 L369.4,158.6 L370.4,158.5 L371.4,158.5 L372.4,157.6 L373.4,156.9 L374.4,156.4 L375.4,156.6 L376.4,156.6 L377.4,155.6 L378.4,155.2 L379.4,155.7 L380.4,155.1 L381.4,154.1 L382.4,153.5 L383.4,152.5 L384.4,152.4 L385.4,151.9 L386.4,151.6 L387.4,151.6 L388.4,150.3 L389.4,150.5 L390.4,150.3 L391.4,150.2 L392.4,149.5 L393.4,149.4 L394.4,148.6 L395.4,148.4 L396.4,148.2 L397.4,147.6 L398.4,147.1 L399.4,147.7 L400.4,146.8 L401.4,146.0 L402.4,145.8 L403.4,146.2 L404.4,146.1 L405.4,145.8 L406.4,145.7 L407.4,144.7 L408.4,144.6 L409.4,144.5 L410.4,144.5 L411.4,143.5 L412.4,142.7 L413.4,143.1 L414.4,143.3 L415.4,143.9 L416.4,143.8 L417.4,142.9 L418.4,143.0 L419.4,142.6 L420.4,142.7 L421.4,142.2 L422.4,141.6 L423.4,141.5 L424.4,141.1 L425.4,141.0 L426.4,141.3 L427.4,140.8 L428.4,140.4 L429.4,140.1 L430.4,139.8 L431.4,140.3 L432.4,140.4 L433.4,140.0 L434.4,140.5 L435.4,140.9 L436.4,140.2 L437.4,140.5 L438.4,139.5 L439.4,139.8 L440.4,140.4 L441.4,140.9 L442.4,141.0 L443.4,141.1 L444.4,141.0 L445.4,141.9 L446.4,141.7 L447.4,141.4 L448.4,142.3 L449.4,142.3 L450.4,143.2 L451.4,142.4 L452.4,142.6 L453.4,143.0 L454.4,142.6 L455.4,142.7 L456.4,142.6 L457.4,143.3 L458.4,143.7 L459.4,143.6 L460.4,143.6 L461.4,143.3 L462.4,144.0 L463.4,144.3 L464.4,144.1 L465.4,144.6 L466.4,145.2 L467.4,145.3 L468.4,145.9 L469.4,146.5 L470.4,146.3 L471.4,146.7 L472.4,147.2 L473.4,148.0 L474.4,147.5 L475.4,147.6 L476.4,148.2 L477.4,148.7 L478.4,149.2 L479.4,149.4 L480.4,150.1 L481.4,150.7 L482.4,151.0 L483.4,151.0 L484.4,151.3 L485.4,151.0 L486.4,151.1 L487.4,152.0 L488.4,152.1 L489.4,151.7 L490.4,151.8 L491.4,152.4 L492.4,152.6 L493.4,152.1 L494.4,152.2 L495.4,152.7 L496.4,154.7 L497.4,155.7 L498.4,155.7 L499.4,155.1 L500.4,155.6 L501.4,156.5 L502.4,156.9 L503.4,156.7 L504.4,157.4 L505.4,158.1 L506.4,158.3 L507.4,158.9 L508.4,159.4 L509.4,160.2 L510.4,160.6 L511.4,160.8 L512.4,160.7 L513.4,161.4 L514.4,162.1 L515.4,162.3 L516.4,162.4 L517.4,162.6 L518.4,163.4 L519.4,164.1 L520.4,164.0 L521.4,164.8 L522.4,165.5 L523.4,165.3 L524.4,166.4 L525.4,166.6 L526.4,166.9 L527.4,167.5 L528.4,167.8 L529.4,168.5 L530.4,169.1 L531.4,169.7 L532.4,170.9 L533.4,171.1 L534.4,171.5 L535.4,172.3 L536.4,172.6 L537.4,173.1 L538.4,173.4 L539.4,174.0 L540.4,173.9 L541.4,174.0 L542.4,174.6 L543.4,175.2 L544.4,176.1 L545.4,176.5 L546.4,176.1 L547.4,176.9 L548.4,177.2 L549.4,176.7 L550.4,177.4 L551.4,178.1 L552.4,178.2 L553.4,177.9 L554.4,178.3 L555.4,178.9 L556.4,178.6 L557.4,179.3 L558.4,179.7 L559.4,180.0 L560.4,180.9 L561.4,181.9 L562.4,181.9 L563.4,182.6 L564.4,183.0 L565.4,183.4 L566.4,183.7 L567.4,184.0 L568.4,184.0 L569.4,183.8 L570.4,184.3 L571.4,184.9 L572.4,185.3 L573.4,185.6 L574.4,186.1 L575.4,187.2 L576.4,187.8 L577.4,187.9 L578.4,188.3 L579.4,188.4 L580.4,188.3 L581.4,188.7 L582.4,189.5 L583.4,189.3 L584.4,189.1 L585.4,189.5 L586.4,190.9 L587.4,191.6 L588.4,191.8 L589.4,192.0 L590.4,192.2 L591.4,192.7 L592.4,193.8 L593.4,194.3 L594.4,193.8 L595.4,194.2 L596.4,195.0 L597.4,194.8 L598.4,194.5 L599.4,195.2 L600.4,194.8 L601.4,193.9 L602.4,194.2 L603.4,194.7 L604.4,195.1 L605.4,195.3 L606.4,195.4 L607.4,195.3 L608.4,195.5 L609.4,195.8 L610.4,196.0 L611.4,196.8 L612.4,197.2 L613.4,197.6 L614.4,197.1 L615.4,196.8 L616.4,197.5 L617.4,198.2 L618.4,198.5 L619.4,199.0 L620.4,198.9 L621.4,199.2 L622.4,199.7 L623.4,199.8 L624.4,199.4 L625.4,199.3 L626.4,199.8 L627.4,199.9 L628.4,199.8 L629.4,199.4 L630.4,199.5 L631.4,199.4 L632.4,199.7 L633.4,199.7 L634.4,199.8 L635.4,200.0 L636.4,200.0 L637.4,200.7 L638.4,201.2 L639.4,200.6 L640.4,201.0 L641.4,201.2 L642.4,201.7 L643.4,202.7 L644.4,202.0 L645.4,201.7 L646.4,202.6 L647.4,202.3 L648.4,201.8 L649.4,201.6 L650.4,202.9 L651.4,202.9 L652.4,202.9 L653.4,202.7 L654.4,203.3 L655.4,203.5 L656.4,202.9 L657.4,203.3 L658.4,203.2 L659.4,202.8 L660.4,203.9 L661.4,205.0 L662.4,204.4 L663.4,203.9 L664.4,204.6 L665.4,204.8 L666.4,204.1 L667.4,204.4 L668.4,204.3 L669.4,204.9 L670.4,204.7 L671.4,205.2 L672.4,205.8 L673.4,204.6 L674.4,205.0 L675.4,205.4 L676.4,205.7 L677.4,205.4 L678.4,204.7 L679.4,204.6 L680.4,205.3 L681.4,205.5 L682.4,206.0 L683.4,205.2 L684.4,205.2 L685.4,205.6 L686.4,205.3 L687.4,205.1 L688.4,205.7 L689.4,206.1 L690.4,206.0 L691.4,206.1 L692.4,206.1 L693.4,206.0 L694.4,206.0 L695.4,206.1"/>
</g>
<g fill="#000">
<text transform="translate(74.63,42.35) scale(0.9664,1)" font-size="39.85">10</text>
<text transform="translate(113.55,28.05) scale(0.9813,1)" font-size="27.83">4</text>
<text transform="translate(74.63,114.95) scale(0.9664,1)" font-size="39.85">10</text>
<text transform="translate(112.76,100.65) scale(1.1423,1)" font-size="27.62">2</text>
<text transform="translate(74.63,187.55) scale(0.9664,1)" font-size="39.85">10</text>
<text transform="translate(112.98,173.47) scale(1.0729,1)" font-size="27.85">0</text>
<text transform="translate(52.10,260.15) scale(0.9464,1)" font-size="39.85">10</text>
<rect x="92.6" y="238.17" width="17.6" height="1.35"/>
<text transform="translate(112.76,245.85) scale(1.1423,1)" font-size="27.62">2</text>
<text transform="translate(52.10,332.75) scale(0.9464,1)" font-size="39.85">10</text>
<rect x="92.6" y="310.77" width="17.6" height="1.35"/>
<text transform="translate(113.55,318.45) scale(0.9813,1)" font-size="27.83">4</text>
<text transform="translate(52.10,405.35) scale(0.9464,1)" font-size="39.85">10</text>
<rect x="92.6" y="383.37" width="17.6" height="1.35"/>
<text transform="translate(112.84,391.27) scale(1.0627,1)" font-size="27.96">6</text>
<text transform="translate(133.76,436.42) scale(0.9938,1)" font-size="38.68">0.675</text>
<text transform="translate(234.66,436.42) scale(0.9940,1)" font-size="38.68">0.75</text>
<text transform="translate(317.37,436.42) scale(0.9878,1)" font-size="38.68">0.825</text>
<text transform="translate(427.15,436.42) scale(0.9989,1)" font-size="38.68">0.9</text>
<text transform="translate(499.26,436.42) scale(0.9938,1)" font-size="38.68">0.975</text>
<text transform="translate(600.41,436.42) scale(1.0023,1)" font-size="38.68">1.05</text>
<text transform="translate(588.41,57.69) scale(1.1913,1)" font-size="20.99" font-style="italic" stroke="#fff" stroke-width="0.2">θ</text>
<rect x="602.8" y="48.80" width="16.5" height="1.05"/><rect x="602.8" y="53.90" width="16.5" height="1.05"/>
<text transform="translate(620.63,57.99) scale(1.1231,1)" font-size="20.74" stroke="#fff" stroke-width="0.2">0</text>
<circle cx="637.5" cy="56.60" r="1.2"/>
<text transform="translate(641.73,57.99) scale(1.1231,1)" font-size="20.74" stroke="#fff" stroke-width="0.2">0</text>
<text transform="translate(654.76,57.80) scale(1.0899,1)" font-size="20.30" stroke="#fff" stroke-width="0.2">1</text>
<line x1="685.6" y1="49.85" x2="705.9" y2="49.85" stroke="#9cfb1c" stroke-width="3.5" stroke-linecap="round"/>
<text transform="translate(588.41,89.82) scale(1.1913,1)" font-size="20.99" font-style="italic" stroke="#fff" stroke-width="0.2">θ</text>
<rect x="602.8" y="80.93" width="16.5" height="1.05"/><rect x="602.8" y="86.03" width="16.5" height="1.05"/>
<text transform="translate(620.63,90.12) scale(1.1231,1)" font-size="20.74" stroke="#fff" stroke-width="0.2">0</text>
<circle cx="637.5" cy="88.73" r="1.2"/>
<text transform="translate(641.73,90.12) scale(1.1231,1)" font-size="20.74" stroke="#fff" stroke-width="0.2">0</text>
<text transform="translate(654.33,89.93) scale(1.2314,1)" font-size="20.38" stroke="#fff" stroke-width="0.2">2</text>
<line x1="685.6" y1="81.98" x2="705.9" y2="81.98" stroke="#40e0d0" stroke-width="3.5" stroke-linecap="round"/>
<text transform="translate(588.41,121.95) scale(1.1913,1)" font-size="20.99" font-style="italic" stroke="#fff" stroke-width="0.2">θ</text>
<rect x="602.8" y="113.06" width="16.5" height="1.05"/><rect x="602.8" y="118.16" width="16.5" height="1.05"/>
<text transform="translate(620.63,122.25) scale(1.1231,1)" font-size="20.74" stroke="#fff" stroke-width="0.2">0</text>
<circle cx="637.5" cy="120.86" r="1.2"/>
<text transform="translate(641.73,122.25) scale(1.1231,1)" font-size="20.74" stroke="#fff" stroke-width="0.2">0</text>
<text transform="translate(654.24,122.15) scale(1.1932,1)" font-size="20.52" stroke="#fff" stroke-width="0.2">3</text>
<line x1="685.6" y1="114.11" x2="705.9" y2="114.11" stroke="#00ffff" stroke-width="3.5" stroke-linecap="round"/>
<text transform="translate(588.41,154.08) scale(1.1913,1)" font-size="20.99" font-style="italic" stroke="#fff" stroke-width="0.2">θ</text>
<rect x="602.8" y="145.19" width="16.5" height="1.05"/><rect x="602.8" y="150.29" width="16.5" height="1.05"/>
<text transform="translate(620.63,154.38) scale(1.1231,1)" font-size="20.74" stroke="#fff" stroke-width="0.2">0</text>
<circle cx="637.5" cy="152.99" r="1.2"/>
<text transform="translate(641.73,154.38) scale(1.1231,1)" font-size="20.74" stroke="#fff" stroke-width="0.2">0</text>
<text transform="translate(653.96,154.28) scale(1.2092,1)" font-size="20.75" stroke="#fff" stroke-width="0.2">5</text>
<line x1="685.6" y1="146.24" x2="705.9" y2="146.24" stroke="#0000ee" stroke-width="3.5" stroke-linecap="round"/>
<g transform="translate(270.80,9.00) scale(0.5959,0.5444)" fill="none" stroke="#000" stroke-linecap="round"><path d="M17.5,2.5 C16.9,0.5 14.5,0.5 13.3,2.7 C12.3,4.7 11.6,7.9 10.9,11.2 L8.9,21.6 C8.3,24.9 7.7,28.4 6.9,30.4 C5.9,33.2 4.5,34.0 3.5,33.9 C2.3,33.8 1.7,32.9 1.8,31.9" stroke-width="1.5"/><path d="M12.3,4.7 C11.8,6.5 11.4,8.8 10.9,11.2 L8.9,21.6 C8.5,24 8.1,26.4 7.6,28.2" stroke-width="2.6"/><path d="M6.3,11.2 H16.1" stroke-width="1.5" stroke-linecap="butt"/><circle cx="17.2" cy="3.1" r="1.9" fill="#000" stroke="none"/><circle cx="1.95" cy="31.6" r="1.9" fill="#000" stroke="none"/></g>
<text transform="translate(281.24,29.50) scale(1.1773,1)" font-size="20.00" stroke="#fff" stroke-width="0.22">1</text>
<g transform="translate(350.00,9.00) scale(0.5907,0.5444)" fill="none" stroke="#000" stroke-linecap="round"><path d="M17.5,2.5 C16.9,0.5 14.5,0.5 13.3,2.7 C12.3,4.7 11.6,7.9 10.9,11.2 L8.9,21.6 C8.3,24.9 7.7,28.4 6.9,30.4 C5.9,33.2 4.5,34.0 3.5,33.9 C2.3,33.8 1.7,32.9 1.8,31.9" stroke-width="1.5"/><path d="M12.3,4.7 C11.8,6.5 11.4,8.8 10.9,11.2 L8.9,21.6 C8.5,24 8.1,26.4 7.6,28.2" stroke-width="2.6"/><path d="M6.3,11.2 H16.1" stroke-width="1.5" stroke-linecap="butt"/><circle cx="17.2" cy="3.1" r="1.9" fill="#000" stroke="none"/><circle cx="1.95" cy="31.6" r="1.9" fill="#000" stroke="none"/></g>
<text transform="translate(361.70,30.77) scale(1.0571,1)" font-size="19.93" font-style="italic" stroke="#fff" stroke-width="0.22">g</text>
<text transform="translate(374.28,29.90) scale(1.1812,1)" font-size="20.43" font-style="italic" stroke="#fff" stroke-width="0.22">d</text>
<text transform="translate(389.25,29.85) scale(0.9537,1)" font-size="20.97">,</text>
<rect x="397.8" y="24.7" width="14.1" height="1.2"/>
<g transform="translate(484.00,9.00) scale(0.5959,0.5444)" fill="none" stroke="#000" stroke-linecap="round"><path d="M17.5,2.5 C16.9,0.5 14.5,0.5 13.3,2.7 C12.3,4.7 11.6,7.9 10.9,11.2 L8.9,21.6 C8.3,24.9 7.7,28.4 6.9,30.4 C5.9,33.2 4.5,34.0 3.5,33.9 C2.3,33.8 1.7,32.9 1.8,31.9" stroke-width="1.5"/><path d="M12.3,4.7 C11.8,6.5 11.4,8.8 10.9,11.2 L8.9,21.6 C8.5,24 8.1,26.4 7.6,28.2" stroke-width="2.6"/><path d="M6.3,11.2 H16.1" stroke-width="1.5" stroke-linecap="butt"/><circle cx="17.2" cy="3.1" r="1.9" fill="#000" stroke="none"/><circle cx="1.95" cy="31.6" r="1.9" fill="#000" stroke="none"/></g>
<text transform="translate(495.70,30.77) scale(1.0677,1)" font-size="19.93" font-style="italic" stroke="#fff" stroke-width="0.22">g</text>
<text transform="translate(508.57,29.90) scale(1.1916,1)" font-size="20.43" font-style="italic" stroke="#fff" stroke-width="0.22">d</text>
<text transform="translate(523.62,29.85) scale(0.9855,1)" font-size="20.97">,</text>
<rect x="530.4" y="24.4" width="16.5" height="1.2"/><rect x="538.05" y="16.9" width="1.2" height="16.2"/>
<g transform="translate(575.00,9.00) scale(0.5699,0.5444)" fill="none" stroke="#000" stroke-linecap="round"><path d="M17.5,2.5 C16.9,0.5 14.5,0.5 13.3,2.7 C12.3,4.7 11.6,7.9 10.9,11.2 L8.9,21.6 C8.3,24.9 7.7,28.4 6.9,30.4 C5.9,33.2 4.5,34.0 3.5,33.9 C2.3,33.8 1.7,32.9 1.8,31.9" stroke-width="1.5"/><path d="M12.3,4.7 C11.8,6.5 11.4,8.8 10.9,11.2 L8.9,21.6 C8.5,24 8.1,26.4 7.6,28.2" stroke-width="2.6"/><path d="M6.3,11.2 H16.1" stroke-width="1.5" stroke-linecap="butt"/><circle cx="17.2" cy="3.1" r="1.9" fill="#000" stroke="none"/><circle cx="1.95" cy="31.6" r="1.9" fill="#000" stroke="none"/></g>
<text transform="translate(585.78,29.60) scale(1.2993,1)" font-size="19.78" stroke="#fff" stroke-width="0.22">3</text>
<g transform="translate(410.70,458.10) scale(1.0000,1.0000)" fill="none" stroke="#000" stroke-linecap="round"><path d="M17.5,2.5 C16.9,0.5 14.5,0.5 13.3,2.7 C12.3,4.7 11.6,7.9 10.9,11.2 L8.9,21.6 C8.3,24.9 7.7,28.4 6.9,30.4 C5.9,33.2 4.5,34.0 3.5,33.9 C2.3,33.8 1.7,32.9 1.8,31.9" stroke-width="1.3"/><path d="M12.3,4.7 C11.8,6.5 11.4,8.8 10.9,11.2 L8.9,21.6 C8.5,24 8.1,26.4 7.6,28.2" stroke-width="2.5"/><path d="M6.3,11.2 H16.1" stroke-width="1.15" stroke-linecap="butt"/><circle cx="17.2" cy="3.1" r="1.85" fill="#000" stroke="none"/><circle cx="1.95" cy="31.6" r="1.85" fill="#000" stroke="none"/></g>
<g transform="translate(9.6,228.5) rotate(-90)"><text transform="translate(0.50,26.60) scale(0.9850,1)" font-size="40.61" font-style="italic">D</text></g>
</g>
</svg>
</body></html>
